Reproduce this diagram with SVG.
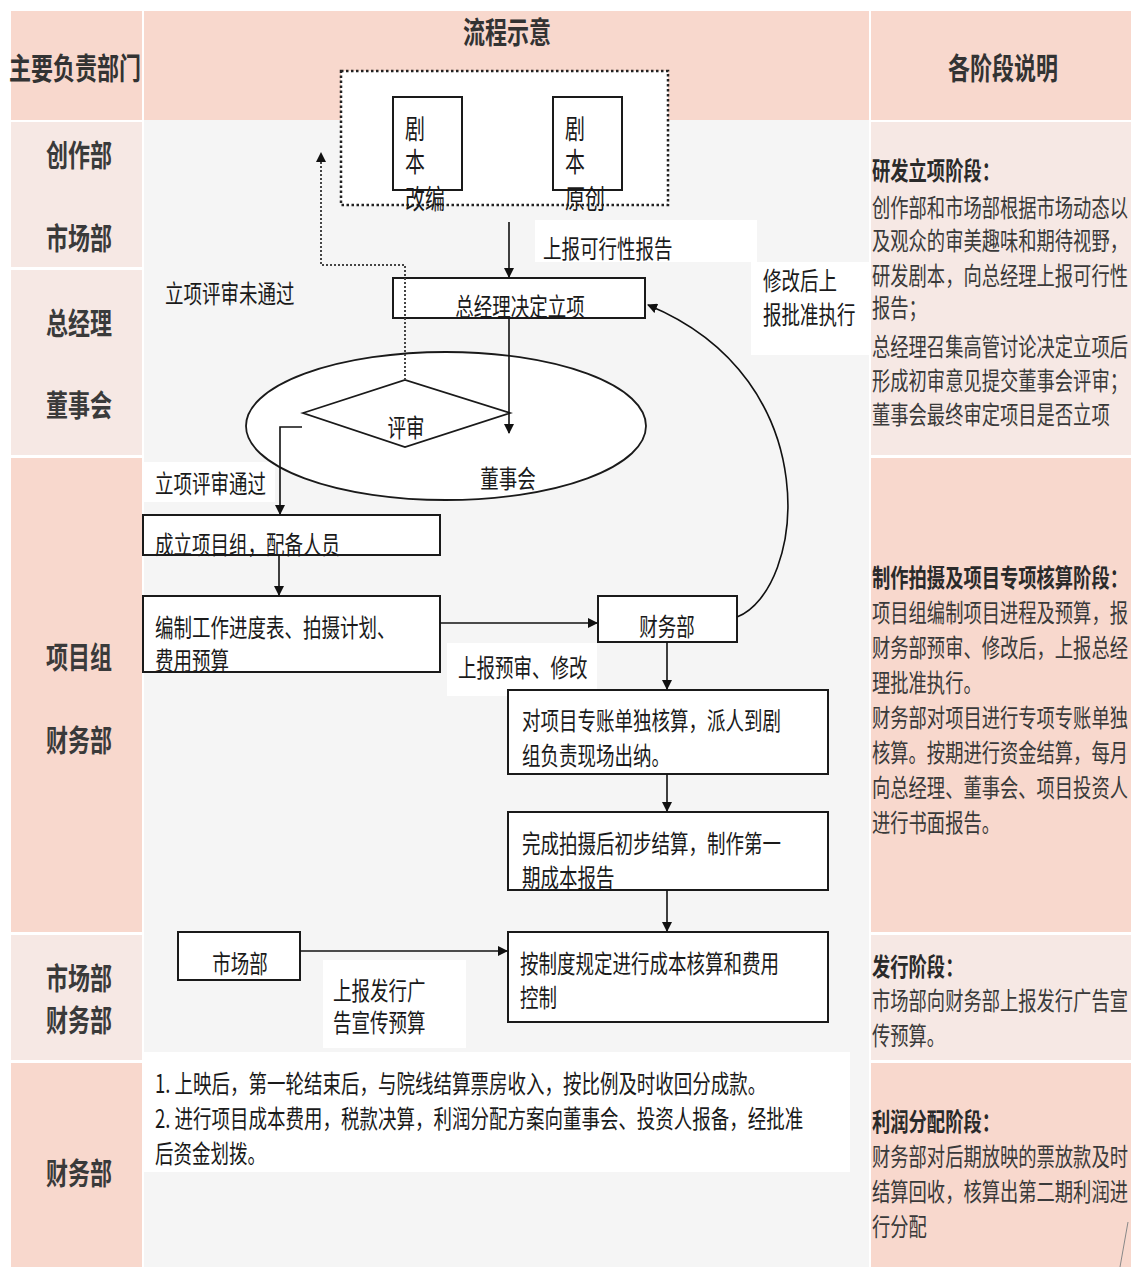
<svg xmlns="http://www.w3.org/2000/svg" width="1131" height="1267" viewBox="0 0 1131 1267">
<style>
text{font-family:"Noto Sans CJK SC","Liberation Sans",sans-serif;fill:#1a1a1a}
.hd{font-size:22px;font-weight:bold;fill:#333;text-anchor:middle}
.dp{font-size:22px;font-weight:bold;fill:#3a3a3a;text-anchor:middle}
.m{font-size:18.5px}
.mc{font-size:18.5px;text-anchor:middle}
.v{font-size:20px}
.rh{font-size:18.3px;font-weight:bold;fill:#2a2a2a}
.rb{font-size:18.3px;fill:#3a3a3a}
.box{fill:#fff;stroke:#1a1a1a;stroke-width:2}
.lbl{fill:#fff}
.ln{fill:none;stroke:#111;stroke-width:1.6}
.dot{fill:none;stroke:#444;stroke-width:2;stroke-dasharray:2 2}
</style>
<defs>
<marker id="ah" markerWidth="10" markerHeight="10" refX="9" refY="5" orient="auto" markerUnits="userSpaceOnUse">
<path d="M0,0 L10,5 L0,10 z" fill="#111"/>
</marker>
<marker id="ahd" markerWidth="10" markerHeight="12" refX="9" refY="5" orient="auto" markerUnits="userSpaceOnUse">
<path d="M0,0 L10,5 L0,10 z" fill="#111"/>
</marker>
</defs>
<rect width="1131" height="1267" fill="#fff"/>
<g id="grid">
<rect x="11" y="11" width="131" height="109" fill="#f8d8cd"/>
<rect x="144" y="11" width="725" height="109" fill="#f8d8cd"/>
<rect x="871" y="11" width="260" height="109" fill="#f8d8cd"/>
<rect x="11" y="122" width="131" height="145" fill="#f6e8e4"/>
<rect x="11" y="270" width="131" height="185" fill="#f6e8e4"/>
<rect x="11" y="458" width="131" height="474" fill="#f8d8cd"/>
<rect x="11" y="935" width="131" height="125" fill="#f6e8e4"/>
<rect x="11" y="1063" width="131" height="204" fill="#f8d8cd"/>
<rect x="144" y="120" width="725" height="1147" fill="#f5f5f5"/>
<rect x="871" y="122" width="260" height="333" fill="#f6e8e4"/>
<rect x="871" y="458" width="260" height="474" fill="#f8d8cd"/>
<rect x="871" y="935" width="260" height="125" fill="#f6e8e4"/>
<rect x="871" y="1063" width="260" height="204" fill="#f8d8cd"/>
<line x1="1128" y1="1222" x2="1120" y2="1267" stroke="#888" stroke-width="1"/>
</g>
<g id="headers">
<text class="hd" transform="matrix(1,0,0,1.35,75,79)">主要负责部门</text>
<text class="hd" transform="matrix(1,0,0,1.35,507,43)">流程示意</text>
<text class="hd" transform="matrix(1,0,0,1.35,1003,79)">各阶段说明</text>
</g>
<g id="departments">
<text class="dp" transform="matrix(1,0,0,1.35,79,166)">创作部</text>
<text class="dp" transform="matrix(1,0,0,1.35,79,249)">市场部</text>
<text class="dp" transform="matrix(1,0,0,1.35,79,334)">总经理</text>
<text class="dp" transform="matrix(1,0,0,1.35,79,416)">董事会</text>
<text class="dp" transform="matrix(1,0,0,1.35,79,668)">项目组</text>
<text class="dp" transform="matrix(1,0,0,1.35,79,751)">财务部</text>
<text class="dp" transform="matrix(1,0,0,1.35,79,989)">市场部</text>
<text class="dp" transform="matrix(1,0,0,1.35,79,1031)">财务部</text>
<text class="dp" transform="matrix(1,0,0,1.35,79,1184)">财务部</text>
</g>
<g id="labels">
<rect class="lbl" x="535" y="220" width="222" height="42"/>
<rect class="lbl" x="751" y="262" width="118" height="93"/>
<rect class="lbl" x="143" y="462" width="132" height="40"/>
<rect class="lbl" x="447" y="643" width="150" height="53"/>
<rect class="lbl" x="323" y="960" width="143" height="88"/>
<text class="m" transform="matrix(1,0,0,1.35,543,258)">上报可行性报告</text>
<text class="m" transform="matrix(1,0,0,1.35,763,290)">修改后上</text>
<text class="m" transform="matrix(1,0,0,1.35,763,324)">报批准执行</text>
<text class="m" transform="matrix(1,0,0,1.35,165,303)">立项评审未通过</text>
<text class="m" transform="matrix(1,0,0,1.35,155,493)">立项评审通过</text>
<text class="m" transform="matrix(1,0,0,1.35,458,677)">上报预审、修改</text>
<text class="m" transform="matrix(1,0,0,1.35,333,1000)">上报发行广</text>
<text class="m" transform="matrix(1,0,0,1.35,333,1032)">告宣传预算</text>
</g>
<g id="n-script">
<rect x="341" y="71" width="327" height="134" fill="#fff" stroke="#222" stroke-width="2.5" stroke-dasharray="2.5 2.5"/>
<g id="n-adapt">
<rect class="box" x="393" y="97" width="69" height="93"/>
<text class="v" transform="matrix(1,0,0,1.35,405,139)">剧</text>
<text class="v" transform="matrix(1,0,0,1.35,405,172)">本</text>
<text class="v" transform="matrix(1,0,0,1.35,405,209)">改编</text>
</g>
<g id="n-original">
<rect class="box" x="553" y="97" width="69" height="93"/>
<text class="v" transform="matrix(1,0,0,1.35,565,139)">剧</text>
<text class="v" transform="matrix(1,0,0,1.35,565,172)">本</text>
<text class="v" transform="matrix(1,0,0,1.35,565,209)">原创</text>
</g>
</g>
<g id="n-gm">
<rect class="box" x="393" y="278" width="252" height="40"/>
<text class="mc" transform="matrix(1,0,0,1.35,520,316)">总经理决定立项</text>
</g>
<g id="n-board">
<ellipse cx="446" cy="426" rx="200" ry="74" fill="#fff" stroke="#1a1a1a" stroke-width="1.8"/>
<text class="mc" transform="matrix(1,0,0,1.35,508,488)">董事会</text>
</g>
<g id="n-review">
<path d="M303,413 L405,380 L510,413 L405,447 Z" fill="#fff" stroke="#1a1a1a" stroke-width="1.8"/>
<text class="mc" transform="matrix(1,0,0,1.35,406,437)">评审</text>
</g>
<g id="n-team">
<rect class="box" x="143" y="515" width="297" height="40"/>
<text class="m" transform="matrix(1,0,0,1.35,155,554)">成立项目组，配备人员</text>
</g>
<g id="n-plan">
<rect class="box" x="143" y="596" width="297" height="76"/>
<text class="m" transform="matrix(1,0,0,1.35,155,637)">编制工作进度表、拍摄计划、</text>
<text class="m" transform="matrix(1,0,0,1.35,155,670)">费用预算</text>
</g>
<g id="n-finance">
<rect class="box" x="598" y="596" width="139" height="46"/>
<text class="mc" transform="matrix(1,0,0,1.35,667,636)">财务部</text>
</g>
<g id="n-account">
<rect class="box" x="508" y="690" width="320" height="84"/>
<text class="m" transform="matrix(1,0,0,1.35,522,730)">对项目专账单独核算，派人到剧</text>
<text class="m" transform="matrix(1,0,0,1.35,522,765)">组负责现场出纳。</text>
</g>
<g id="n-settle">
<rect class="box" x="508" y="812" width="320" height="78"/>
<text class="m" transform="matrix(1,0,0,1.35,522,853)">完成拍摄后初步结算，制作第一</text>
<text class="m" transform="matrix(1,0,0,1.35,522,887)">期成本报告</text>
</g>
<g id="n-market">
<rect class="box" x="178" y="932" width="122" height="48"/>
<text class="mc" transform="matrix(1,0,0,1.35,240,973)">市场部</text>
</g>
<g id="n-control">
<rect class="box" x="508" y="932" width="320" height="90"/>
<text class="m" transform="matrix(1,0,0,1.35,520,973)">按制度规定进行成本核算和费用</text>
<text class="m" transform="matrix(1,0,0,1.35,520,1007)">控制</text>
</g>
<g id="n-profit">
<rect x="143" y="1052" width="707" height="120" fill="#fff"/>
<text class="m" transform="matrix(1,0,0,1.35,155,1093)">1. 上映后，第一轮结束后，与院线结算票房收入，按比例及时收回分成款。</text>
<text class="m" transform="matrix(1,0,0,1.35,155,1128)">2. 进行项目成本费用，税款决算，利润分配方案向董事会、投资人报备，经批准</text>
<text class="m" transform="matrix(1,0,0,1.35,155,1163)">后资金划拨。</text>
</g>
<g id="connectors">
<path class="ln" d="M509,222 V277" marker-end="url(#ah)"/>
<path class="dot" d="M405,380 V265 H321 V153" marker-end="url(#ahd)"/>
<path class="ln" d="M509,318 V433" marker-end="url(#ah)"/>
<path class="ln" d="M302,427 H280 V514" marker-end="url(#ah)"/>
<path class="ln" d="M279,555 V595" marker-end="url(#ah)"/>
<path class="ln" d="M440,623 H597" marker-end="url(#ah)"/>
<path class="ln" d="M737,617 C805,590 830,380 648,305" stroke-width="2.2" marker-end="url(#ah)"/>
<path class="ln" d="M667,642 V689" marker-end="url(#ah)"/>
<path class="ln" d="M667,774 V811" marker-end="url(#ah)"/>
<path class="ln" d="M667,890 V931" marker-end="url(#ah)"/>
<path class="ln" d="M300,951 H507" marker-end="url(#ah)"/>
</g>
<g id="notes">
<text class="rh" transform="matrix(1,0,0,1.35,872,180)">研发立项阶段：</text>
<text class="rb" transform="matrix(1,0,0,1.35,872,217)">创作部和市场部根据市场动态以</text>
<text class="rb" transform="matrix(1,0,0,1.35,872,250)">及观众的审美趣味和期待视野，</text>
<text class="rb" transform="matrix(1,0,0,1.35,872,285)">研发剧本，向总经理上报可行性</text>
<text class="rb" transform="matrix(1,0,0,1.35,872,317)">报告；</text>
<text class="rb" transform="matrix(1,0,0,1.35,872,356)">总经理召集高管讨论决定立项后</text>
<text class="rb" transform="matrix(1,0,0,1.35,872,390)">形成初审意见提交董事会评审；</text>
<text class="rb" transform="matrix(1,0,0,1.35,872,424)">董事会最终审定项目是否立项</text>
<text class="rh" transform="matrix(1,0,0,1.35,872,587)">制作拍摄及项目专项核算阶段：</text>
<text class="rb" transform="matrix(1,0,0,1.35,872,622)">项目组编制项目进程及预算，报</text>
<text class="rb" transform="matrix(1,0,0,1.35,872,657)">财务部预审、修改后，上报总经</text>
<text class="rb" transform="matrix(1,0,0,1.35,872,692)">理批准执行。</text>
<text class="rb" transform="matrix(1,0,0,1.35,872,727)">财务部对项目进行专项专账单独</text>
<text class="rb" transform="matrix(1,0,0,1.35,872,762)">核算。按期进行资金结算，每月</text>
<text class="rb" transform="matrix(1,0,0,1.35,872,797)">向总经理、董事会、项目投资人</text>
<text class="rb" transform="matrix(1,0,0,1.35,872,832)">进行书面报告。</text>
<text class="rh" transform="matrix(1,0,0,1.35,872,976)">发行阶段：</text>
<text class="rb" transform="matrix(1,0,0,1.35,872,1010)">市场部向财务部上报发行广告宣</text>
<text class="rb" transform="matrix(1,0,0,1.35,872,1045)">传预算。</text>
<text class="rh" transform="matrix(1,0,0,1.35,872,1131)">利润分配阶段：</text>
<text class="rb" transform="matrix(1,0,0,1.35,872,1166)">财务部对后期放映的票放款及时</text>
<text class="rb" transform="matrix(1,0,0,1.35,872,1201)">结算回收，核算出第二期利润进</text>
<text class="rb" transform="matrix(1,0,0,1.35,872,1236)">行分配</text>
</g>
</svg>
